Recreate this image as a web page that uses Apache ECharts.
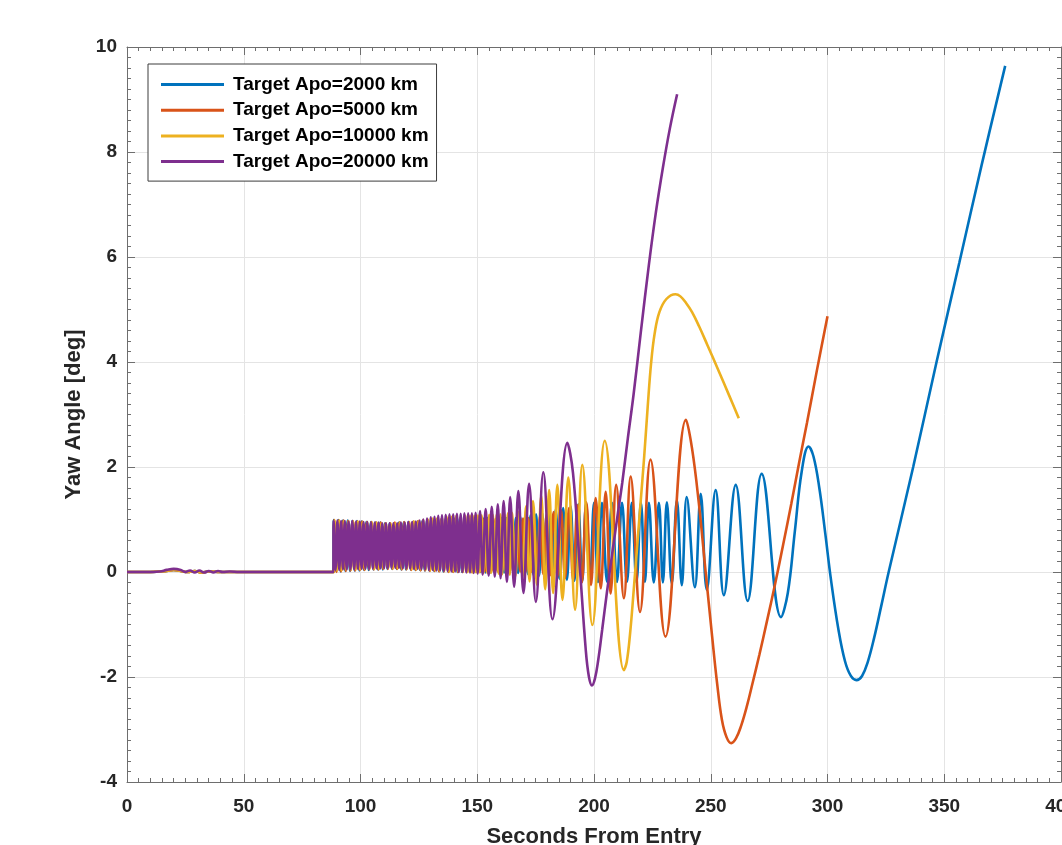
<!DOCTYPE html>
<html>
<head>
<meta charset="utf-8">
<script src="https://cdn.jsdelivr.net/npm/echarts@6/dist/echarts.min.js"></script>
<style>
html,body{margin:0;padding:0;background:#fff;}
#chart{width:1062px;height:845px;}
</style>
</head>
<body>
<div id="chart"></div>
<script>
// ---------- data (time [s], yaw angle [deg]) ----------
const seriesNames = ['Target Apo=2000 km', 'Target Apo=5000 km', 'Target Apo=10000 km', 'Target Apo=20000 km'];
const seriesColors = ['#0072BD', '#D95319', '#EDB120', '#7E2F8E'];
const xRange = [0, 400, 50];
const yRange = [-4, 10, 2];
const xTitle = 'Seconds From Entry';
const yTitle = 'Yaw Angle [deg]';

const apo2000 = [
[0,0],[10,0],[17,0.02],[20,0.04],[23,0.02],[26,0],[29,0.02],[32,-0.01],[35,0.01],[40,0],[50,0],[70,0],[88.4,0],
[88.5,0.99],[89.5,0.02],[90.5,0.99],[91.5,0.01],[92.5,0.98],[93.5,0.02],[94.5,0.98],[95.5,0.02],[96.5,0.97],[97.5,0.03],[98.5,0.97],[99.5,0.03],
[100.5,0.96],[101.5,0.04],[102.5,0.95],[103.5,0.04],[104.5,0.95],[105.5,0.05],[106.5,0.94],[107.5,0.05],[108.5,0.94],[109.5,0.05],
[110.5,0.93],[111.5,0.06],[112.5,0.93],[113.5,0.06],[114.5,0.93],[115.5,0.06],[116.5,0.94],[117.5,0.05],[118.5,0.94],[119.5,0.05],
[120.5,0.95],[121.5,0.05],[122.5,0.95],[123.5,0.04],[124.5,0.96],[125.5,0.04],[126.5,0.97],[127.5,0.03],[128.5,0.98],[129.5,0.03],
[130.5,0.99],[131.5,0.02],[132.5,1.0],[133.5,0.02],[134.5,1.0],[135.5,0.01],[136.5,1.01],[137.5,0.01],[138.5,1.01],[139.5,0.01],
[140.5,1.02],[141.5,0],[142.5,1.02],[143.5,0],[144.5,1.02],[145.5,0],[146.5,1.02],[147.5,0],[148.5,1.02],[149.5,0],
[150.5,1.02],[151.5,0],[152.5,1.02],[153.5,-0.01],[154.5,1.03],[155.5,-0.01],[156.5,1.03],[157.5,-0.01],[158.5,1.03],[159.5,-0.01],
[160.5,1.03],[161.5,-0.01],[162.5,1.03],[163.5,-0.01],[164.5,1.03],[165.5,-0.01],[166.5,1.03],[167.5,-0.02],[168.5,1.04],[169.55,-0.03],
[170.6,1.06],[171.7,-0.04],[172.8,1.08],[174.0,-0.05],[175.2,1.1],[176.5,-0.07],[177.8,1.13],[179.2,-0.09],[180.6,1.16],[182.1,-0.11],
[183.6,1.19],[185.2,-0.13],[186.8,1.22],[188.4,-0.15],[190.0,1.25],[191.6,-0.17],[193.3,1.29],[194.95,-0.18],[196.6,1.32],[198.3,-0.19],
[200,1.32],[201.7,-0.19],[203.4,1.32],[205.6,-0.19],[207.7,1.32],[209.8,-0.19],[212,1.32],[214.1,-0.19],[216.2,1.32],[218.2,-0.19],
[220.1,1.32],[221.8,-0.19],[223.5,1.32],[225.6,-0.2],[227.8,1.32],[229.5,-0.2],[231.2,1.33],[233.3,-0.22],[235.5,1.37],[237.6,-0.25],
[239.7,1.43],[243.2,-0.29],[245.7,1.49],[248.3,-0.34],[252.1,1.56],[255.6,-0.44],[260.7,1.66],[265.8,-0.55],[271.8,1.87],[280.1,-0.86],
[283,-0.4],[286,0.77],[289,1.93],[291.9,2.39],[294,2.2],[296.5,1.6],[299,0.75],[301.5,-0.15],[304.7,-1.1],[307.5,-1.7],
[310,-1.98],[312.4,-2.06],[314.8,-1.98],[317.2,-1.72],[320,-1.25],[323,-0.65],[326.2,0],[336.7,2],[346.7,4],[356.5,5.9],
[366,7.75],[376.1,9.64]
];

const apo5000 = [
[0,0],[10,0],[17,0.02],[20,0.04],[23,0.02],[26,0],[29,0.02],[32,-0.01],[35,0.01],[40,0],[50,0],[70,0],[88.6,0],
[88.7,0.99],[89.7,0],[90.7,0.98],[91.7,0.01],[92.7,0.98],[93.7,0.02],[94.7,0.97],[95.7,0.03],[96.7,0.97],[97.7,0.03],[98.7,0.96],[99.7,0.04],
[100.7,0.96],[101.7,0.04],[102.7,0.95],[103.7,0.05],[104.7,0.95],[105.7,0.05],[106.7,0.94],[107.7,0.05],[108.7,0.94],[109.7,0.06],
[110.7,0.93],[111.7,0.06],[112.7,0.93],[113.7,0.06],[114.7,0.94],[115.7,0.06],[116.7,0.94],[117.7,0.05],[118.7,0.95],[119.7,0.05],
[120.7,0.95],[121.7,0.04],[122.7,0.96],[123.7,0.04],[124.7,0.97],[125.7,0.03],[126.7,0.98],[127.7,0.03],[128.7,0.99],[129.7,0.02],
[130.7,1.0],[131.7,0.02],[132.7,1.0],[133.7,0.01],[134.7,1.01],[135.7,0.01],[136.7,1.01],[137.7,0],[138.7,1.01],[139.7,0],
[140.7,1.01],[141.7,0],[142.7,1.01],[143.7,0],[144.7,1.01],[145.7,0],[146.7,1.01],[147.7,0],[148.7,1.01],[149.7,0.01],
[150.6,1.01],[151.5,0.01],[152.4,1.01],[153.3,0.01],[154.2,1.01],[155.1,0.01],[156.0,1.01],[156.9,0.01],[157.8,1.01],[158.7,0.01],
[159.6,1.01],[160.5,0.01],[161.4,1.01],[162.3,0.01],[163.2,1.01],[164.1,0.01],[165.0,1.01],[165.9,0.01],[167.1,1.01],[168.4,0.01],
[169.6,1.02],[170.8,0.01],[171.9,1.03],[173.1,0],[174.3,1.05],[175.6,-0.02],[176.9,1.07],[178.3,-0.04],[179.7,1.1],[181.2,-0.06],
[182.7,1.14],[184.3,-0.09],[185.9,1.18],[187.6,-0.12],[189.3,1.22],[191.1,-0.16],[192.9,1.27],[194.8,-0.2],[196.7,1.33],[198.7,-0.25],
[200.7,1.41],[202.9,-0.31],[205,1.53],[207.1,-0.41],[209.5,1.66],[212.8,-0.5],[215.7,1.82],[219.7,-0.76],[224.2,2.14],[230.6,-1.23],
[239.4,2.9],[242,2.35],[244.9,1.31],[247.7,0.05],[250.6,-1.23],[252.8,-2.15],[254.8,-2.82],[256.8,-3.15],[258.8,-3.26],[260.8,-3.17],
[263,-2.93],[265.5,-2.55],[268,-2.1],[270.8,-1.58],[274,-0.95],[277.6,-0.22],[281,0.52],[284.5,1.3],[287.8,2.07],[291.2,2.84],
[295.5,3.85],[300,4.87]
];

const apo10000 = [
[0,0],[10,0],[17,0.02],[20,0.04],[23,0.02],[26,0],[29,0.02],[32,-0.01],[35,0.01],[40,0],[50,0],[70,0],[88.8,0],
[88.9,0.98],[89.9,0.03],[90.9,0.98],[91.9,0.03],[92.9,0.97],[93.9,0.04],[94.9,0.97],[95.9,0.04],[96.9,0.96],[97.9,0.05],[98.9,0.96],[99.9,0.05],
[100.9,0.95],[101.9,0.05],[102.9,0.95],[103.9,0.06],[104.9,0.94],[105.9,0.06],[106.9,0.94],[107.9,0.06],[108.9,0.93],[109.9,0.07],
[110.9,0.93],[111.9,0.07],[112.9,0.93],[113.9,0.07],[114.9,0.93],[115.9,0.07],[116.9,0.94],[117.9,0.06],[118.9,0.94],[119.9,0.06],
[120.9,0.95],[121.9,0.05],[122.9,0.96],[123.9,0.05],[124.9,0.97],[125.9,0.04],[126.9,0.99],[127.9,0.04],[128.9,1.0],[129.9,0.03],
[130.9,1.02],[131.9,0.03],[132.9,1.03],[133.9,0.02],[134.9,1.04],[135.9,0.02],[136.9,1.05],[137.9,0.01],[138.9,1.05],[139.9,0.01],
[140.9,1.06],[141.9,0],[142.9,1.06],[143.9,0],[144.9,1.07],[145.9,0],[146.9,1.07],[147.9,-0.01],[148.7,1.07],[149.5,-0.01],
[150.3,1.08],[151.1,-0.01],[151.9,1.08],[152.7,-0.02],[153.5,1.08],[154.3,-0.02],[155.1,1.09],[155.9,-0.02],[156.7,1.09],[157.5,-0.03],
[158.3,1.1],[159.1,-0.03],[159.9,1.1],[160.7,-0.04],[161.5,1.11],[162.3,-0.04],[163.1,1.12],[163.9,-0.05],[164.9,1.13],[166.3,-0.08],
[167.9,1.15],[169.4,-0.1],[170.9,1.25],[172.4,-0.18],[173.9,1.35],[175.6,-0.25],[177.4,1.45],[179.1,-0.33],[180.8,1.56],[182.5,-0.4],
[184.3,1.66],[186.5,-0.53],[189,1.8],[191.9,-0.72],[195,2.04],[199.3,-1.01],[204.6,2.5],[212.8,-1.87],[214,-1.72],[215.5,-1.15],
[217,-0.35],[218.5,0.5],[220,1.35],[221.5,2.2],[223,3.15],[224.5,4.0],[226,4.55],[228,4.95],[231,5.2],[234.9,5.29],
[237,5.25],[239.5,5.12],[242,4.95],[245,4.68],[248.5,4.33],[253.4,3.83],[258,3.35],[262,2.93]
];

const apo20000 = [
[0,0],[8,0],[14,0.01],[17,0.04],[20,0.06],[23,0.04],[25,0],[27,0.03],[29,-0.01],[31,0.03],[33,-0.01],[35,0.02],[37,-0.01],[39,0.02],[41,0],[44,0.01],[48,0],[60,0],[75,0],[88.4,0],
[88.5,0.97],[89.3,0.04],[90.1,0.98],[90.9,0.04],[91.7,0.97],[92.5,0.05],[93.3,0.97],[94.1,0.05],[94.9,0.96],[95.7,0.05],
[96.5,0.97],[97.3,0.05],[98.1,0.96],[98.9,0.06],[99.7,0.96],[100.5,0.06],[101.3,0.95],[102.1,0.06],[102.9,0.95],[103.7,0.06],
[104.5,0.94],[105.3,0.07],[106.1,0.94],[106.9,0.07],[107.7,0.94],[108.5,0.07],[109.3,0.93],[110.1,0.07],[110.9,0.93],[111.7,0.07],
[112.5,0.93],[113.3,0.08],[114.1,0.93],[114.9,0.08],[115.7,0.93],[116.5,0.08],[117.3,0.94],[118.1,0.07],[118.9,0.94],[119.7,0.07],
[120.5,0.95],[121.3,0.07],[122.1,0.95],[122.9,0.06],[123.7,0.96],[124.5,0.06],[125.3,0.98],[126.1,0.05],[126.9,1.0],[127.7,0.05],
[128.5,1.02],[129.3,0.04],[130.1,1.04],[130.9,0.04],[131.7,1.05],[132.5,0.03],[133.3,1.07],[134.1,0.03],[134.9,1.08],[135.7,0.02],
[136.5,1.09],[137.3,0.02],[138.1,1.1],[138.9,0.01],[139.7,1.1],[140.5,0.01],[141.3,1.11],[142.1,0],[142.9,1.11],[143.7,0],
[144.5,1.12],[145.3,-0.01],[146.1,1.12],[146.9,-0.01],[147.7,1.12],[148.5,-0.02],[149.3,1.13],[150.2,-0.03],[151.2,1.16],[152.3,-0.05],
[153.6,1.2],[154.9,-0.07],[156.2,1.24],[157.5,-0.09],[158.8,1.29],[160.0,-0.12],[161.3,1.35],[162.7,-0.19],[164.1,1.43],[165.8,-0.28],
[167.6,1.54],[169.8,-0.4],[172.2,1.68],[175.1,-0.57],[178.3,1.9],[182.2,-0.9],[188.6,2.46],[191,1.89],[193.85,0.15],[196.5,-1.5],
[197.8,-1.99],[199.1,-2.16],[200.4,-2.03],[201.8,-1.68],[203.5,-1.1],[205.5,-0.4],[207.8,0.35],[210,1.05],[212.1,1.7],[214.5,2.55],
[217,3.4],[220,4.55],[223.5,5.85],[226.5,6.85],[229.5,7.7],[232.5,8.45],[235.6,9.1]
];

const seriesData = [apo2000, apo5000, apo10000, apo20000];

// ---------- chart ----------
const FONT = '"Liberation Sans", Arial, Helvetica, sans-serif';
const AXIS_COLOR = '#6e6e6e';
const TEXT_COLOR = '#262626';
const chart = echarts.init(document.getElementById('chart'), null, {renderer: 'canvas'});

function baseAxis(extra) {
  return Object.assign({
    type: 'value',
    axisLine: {show: true, onZero: false, lineStyle: {color: AXIS_COLOR, width: 1}},
    axisTick: {show: true, inside: true, length: 8, lineStyle: {color: AXIS_COLOR, width: 1}},
    minorTick: {show: true, splitNumber: 10, length: 4, lineStyle: {color: AXIS_COLOR, width: 1}},
    minorSplitLine: {show: false}
  }, extra);
}

const option = {
  backgroundColor: '#ffffff',
  animation: false,
  color: seriesColors,
  grid: {left: 127, right: 1, top: 47, bottom: 63, containLabel: false, outerBoundsMode: 'none'},
  legend: {
    orient: 'vertical',
    left: 148,
    top: 64,
    data: seriesNames,
    icon: 'rect',
    itemWidth: 63,
    itemHeight: 3,
    itemGap: 6.7,
    padding: [11, 8, 10, 13],
    backgroundColor: '#ffffff',
    borderColor: '#3c3c3c',
    borderWidth: 1,
    selectedMode: false,
    textStyle: {fontFamily: FONT, fontWeight: 'bold', fontSize: 19, color: '#000', lineHeight: 19, padding: [0, 0, 0, 4]}
  },
  xAxis: [
    baseAxis({
      position: 'bottom', min: xRange[0], max: xRange[1], interval: xRange[2],
      splitLine: {show: true, lineStyle: {color: '#e4e4e4', width: 1}},
      axisLabel: {show: true, fontFamily: FONT, fontWeight: 'bold', fontSize: 19, color: TEXT_COLOR, margin: 15},
      name: xTitle, nameLocation: 'middle', nameGap: 44,
      nameTextStyle: {fontFamily: FONT, fontWeight: 'bold', fontSize: 22, color: TEXT_COLOR}
    }),
    baseAxis({
      position: 'top', min: xRange[0], max: xRange[1], interval: xRange[2],
      splitLine: {show: false}, axisLabel: {show: false}
    })
  ],
  yAxis: [
    baseAxis({
      position: 'left', min: yRange[0], max: yRange[1], interval: yRange[2],
      splitLine: {show: true, lineStyle: {color: '#e4e4e4', width: 1}},
      axisLabel: {show: true, fontFamily: FONT, fontWeight: 'bold', fontSize: 19, color: TEXT_COLOR, margin: 10},
      name: yTitle, nameLocation: 'middle', nameGap: 40, nameRotate: 90,
      nameTextStyle: {fontFamily: FONT, fontWeight: 'bold', fontSize: 22, color: TEXT_COLOR}
    }),
    baseAxis({
      position: 'right', min: yRange[0], max: yRange[1], interval: yRange[2],
      splitLine: {show: false}, axisLabel: {show: false}
    })
  ],
  series: seriesNames.map((name, i) => ({
    name: name,
    type: 'line',
    xAxisIndex: 0,
    yAxisIndex: 0,
    data: seriesData[i],
    showSymbol: false,
    symbol: 'none',
    smooth: 0.4,
    lineStyle: {width: 2.6, color: seriesColors[i]},
    itemStyle: {color: seriesColors[i]},
    emphasis: {disabled: true},
    z: 2 + i
  }))
};

chart.setOption(option);
</script>
</body>
</html>
